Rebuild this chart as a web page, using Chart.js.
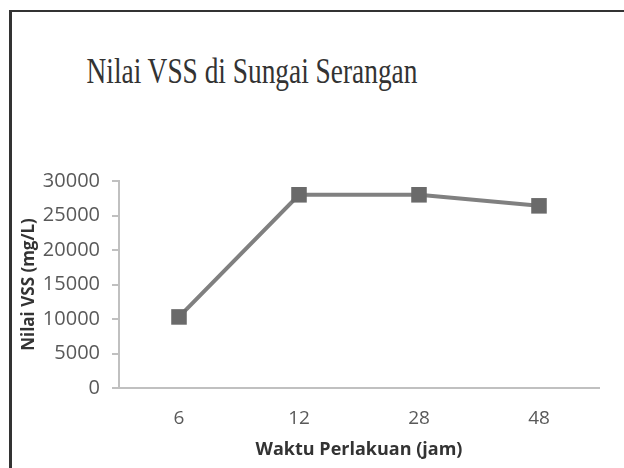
<!DOCTYPE html>
<html>
<head>
<meta charset="utf-8">
<script src="https://cdn.jsdelivr.net/npm/chart.js@4"></script>
<style>
html,body{margin:0;padding:0;background:#fff;}
#wrap{position:relative;width:624px;height:468px;overflow:hidden;}
#frame{position:absolute;left:9px;top:10px;width:640px;height:480px;border-left:3px solid #333;border-top:2px solid #333;}
#title{position:absolute;left:0;top:53px;width:504px;text-align:center;font-family:"Liberation Serif","DejaVu Serif",serif;font-size:36px;color:#333;transform:scaleX(0.76);transform-origin:252px 0;white-space:nowrap;line-height:36px;}
#c{position:absolute;left:0;top:0;}
</style>
</head>
<body>
<div id="wrap">
<div id="frame"></div>
<div id="title">Nilai VSS di Sungai Serangan</div>
<canvas id="c" width="624" height="468"></canvas>
</div>
<script>
const waktu = ['6','12','28','48']
const nilaiVSS = [10300,28000,28000,26400]
const yTicks = [0,5000,10000,15000,20000,25000,30000]

const ctx1 =
document.getElementById('c')

new Chart(ctx1,{
type:'line',
data:{
labels:waktu,
datasets:[{
label:'Nilai VSS',
data:nilaiVSS,
borderColor:'#808080',
borderWidth:4,
pointStyle:'rect',
pointRadius:11,
pointBackgroundColor:'#6a6a6a',
pointBorderColor:'#6a6a6a',
pointBorderWidth:0,
fill:false,
tension:0
}]
},
options:{
responsive:false,
animation:false,
layout:{
padding:{left:17,right:25,top:181,bottom:9}
},
plugins:{
legend:{display:false},
tooltip:{enabled:false}
},
scales:{
x:{
offset:true,
afterFit:(axis)=>{axis.height = 71},
grid:{display:false},
border:{display:true,color:'#c0c0c0',width:2},
ticks:{color:'#595959',font:{family:'Open Sans',size:19,lineHeight:1},padding:13},
title:{
display:true,
text:'Waktu Perlakuan (jam)',
color:'#333',
font:{family:'Open Sans',size:18,weight:'bold',lineHeight:1},
padding:{top:1,bottom:0}
}
},
y:{
min:0,
max:30000,
afterBuildTicks:(axis)=>{axis.ticks = yTicks.map(v=>({value:v}))},
afterFit:(axis)=>{axis.width = 102},
grid:{drawOnChartArea:false,tickLength:7,color:'#c0c0c0',lineWidth:2},
border:{display:true,color:'#c0c0c0',width:2},
ticks:{color:'#595959',font:{family:'Open Sans',size:20},padding:12,callback:(v)=>String(v)},
title:{
display:true,
text:'Nilai VSS (mg/L)',
color:'#333',
font:{family:'Open Sans',size:17,weight:'bold',lineHeight:1},
padding:{top:4,bottom:0}
}
}
}
}
})
</script>
</body>
</html>
